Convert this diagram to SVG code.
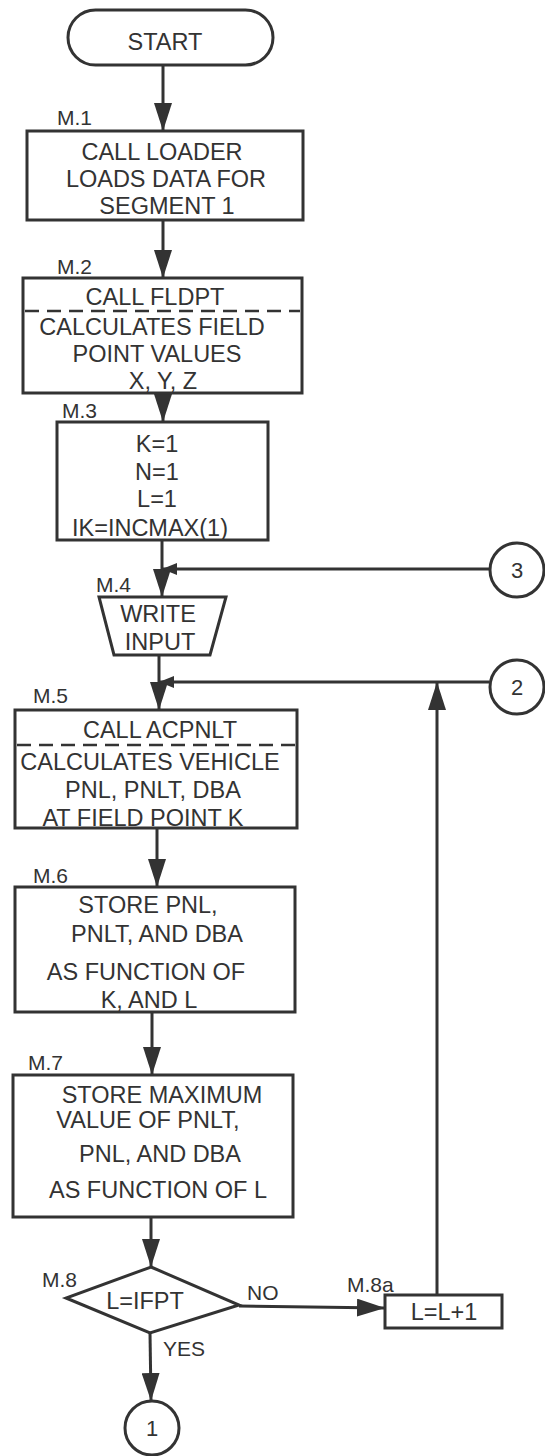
<svg xmlns="http://www.w3.org/2000/svg" width="545" height="1456" viewBox="0 0 545 1456">
<style>
.s{fill:none;stroke:#333;stroke-width:3}
.b{fill:#fff;stroke:#333;stroke-width:3}
.d{stroke:#333;stroke-width:2.5;stroke-dasharray:14 8;fill:none}
text{font-family:"Liberation Sans",Arial,sans-serif;fill:#333}
.t{font-size:23.5px;text-anchor:middle}
.m{font-size:21px}
.n{font-size:22px;text-anchor:middle}
</style>
<defs>
<marker id="ah" markerUnits="userSpaceOnUse" viewBox="0 0 28 18" refX="27" refY="9" markerWidth="28" markerHeight="18" orient="auto">
<path d="M0,0 L28,9 L0,18 z" fill="#333"/>
</marker>
<marker id="as" markerUnits="userSpaceOnUse" viewBox="0 0 15 12" refX="14" refY="6" markerWidth="15" markerHeight="12" orient="auto">
<path d="M0,0 L15,6 L0,12 z" fill="#333"/>
</marker>
</defs>
<rect width="545" height="1456" fill="#fff"/>
<g id="connectors">
<line class="s" x1="163" y1="65" x2="163" y2="130" marker-end="url(#ah)"/>
<line class="s" x1="163" y1="220" x2="163" y2="277" marker-end="url(#ah)"/>
<line class="s" x1="163" y1="393" x2="163" y2="421" marker-end="url(#ah)"/>
<line class="s" x1="162" y1="540" x2="162" y2="596" marker-end="url(#ah)"/>
<line class="s" x1="490" y1="569" x2="163" y2="569" marker-end="url(#as)"/>
<line class="s" x1="159" y1="655" x2="159" y2="709" marker-end="url(#ah)"/>
<line class="s" x1="489" y1="682" x2="160" y2="682" marker-end="url(#as)"/>
<line class="s" x1="437" y1="1295" x2="437" y2="683" marker-end="url(#ah)"/>
<line class="s" x1="157" y1="828" x2="157" y2="886" marker-end="url(#ah)"/>
<line class="s" x1="152" y1="1012" x2="152" y2="1074" marker-end="url(#ah)"/>
<line class="s" x1="151" y1="1217" x2="151" y2="1266" marker-end="url(#ah)"/>
<line class="s" x1="239" y1="1306" x2="384" y2="1308" marker-end="url(#ah)"/>
<line class="s" x1="150" y1="1333" x2="151" y2="1400" marker-end="url(#ah)"/>
<text class="m" x="247" y="1300">NO</text>
<text class="m" x="163" y="1356">YES</text>
</g>
<g id="start">
<rect class="b" x="68" y="10" width="205" height="55" rx="27.5"/>
<text class="t" x="165" y="50">START</text>
</g>
<g id="m1">
<text class="m" x="57" y="125">M.1</text>
<rect class="b" x="27" y="131" width="276" height="89"/>
<text class="t" x="162" y="160">CALL LOADER</text>
<text class="t" x="166" y="187">LOADS DATA FOR</text>
<text class="t" x="167" y="214">SEGMENT 1</text>
</g>
<g id="m2">
<text class="m" x="57" y="274">M.2</text>
<rect class="b" x="23" y="278" width="279" height="115"/>
<line class="d" x1="25" y1="311" x2="300" y2="311"/>
<text class="t" x="155" y="305">CALL FLDPT</text>
<text class="t" x="152" y="335">CALCULATES FIELD</text>
<text class="t" x="157" y="362">POINT VALUES</text>
<text class="t" x="163" y="389">X, Y, Z</text>
</g>
<g id="m3">
<text class="m" x="62" y="418">M.3</text>
<rect class="b" x="57" y="422" width="211" height="118"/>
<text class="t" x="157" y="452">K=1</text>
<text class="t" x="157" y="480">N=1</text>
<text class="t" x="157" y="507">L=1</text>
<text class="t" x="150" y="536">IK=INCMAX(1)</text>
</g>
<g id="m4">
<text class="m" x="96" y="592">M.4</text>
<path class="b" d="M99,597 L226,597 L210,655 L114,655 Z"/>
<text class="t" x="158" y="622">WRITE</text>
<text class="t" x="160" y="650">INPUT</text>
</g>
<g id="c3">
<circle class="b" cx="517" cy="570" r="27"/>
<text class="n" x="517" y="578">3</text>
</g>
<g id="c2">
<circle class="b" cx="517" cy="687" r="27"/>
<text class="n" x="517" y="695">2</text>
</g>
<g id="m5">
<text class="m" x="33" y="703">M.5</text>
<rect class="b" x="15" y="710" width="282" height="118"/>
<line class="d" x1="17" y1="745" x2="295" y2="745"/>
<text class="t" x="160" y="738">CALL ACPNLT</text>
<text class="t" x="150" y="770">CALCULATES VEHICLE</text>
<text class="t" x="153" y="798">PNL, PNLT, DBA</text>
<text class="t" x="143" y="826">AT FIELD POINT K</text>
</g>
<g id="m6">
<text class="m" x="33" y="883">M.6</text>
<rect class="b" x="15" y="887" width="280" height="125"/>
<text class="t" x="148" y="913">STORE PNL,</text>
<text class="t" x="157" y="942">PNLT, AND DBA</text>
<text class="t" x="146" y="980">AS FUNCTION OF</text>
<text class="t" x="149" y="1008">K, AND L</text>
</g>
<g id="m7">
<text class="m" x="28" y="1070">M.7</text>
<rect class="b" x="13" y="1075" width="280" height="142"/>
<text class="t" x="162" y="1103">STORE MAXIMUM</text>
<text class="t" x="148" y="1128">VALUE OF PNLT,</text>
<text class="t" x="160" y="1162">PNL, AND DBA</text>
<text class="t" x="158" y="1198">AS FUNCTION OF L</text>
</g>
<g id="m8">
<text class="m" x="42" y="1287">M.8</text>
<path class="b" d="M151,1267 L239,1305 L150,1333 L66,1298 Z"/>
<text class="t" x="145" y="1309">L=IFPT</text>
</g>
<g id="m8a">
<text class="m" x="347" y="1292">M.8a</text>
<rect class="b" x="385" y="1295" width="117" height="33"/>
<text class="t" x="444" y="1320">L=L+1</text>
</g>
<g id="c1">
<circle class="b" cx="152" cy="1428" r="27"/>
<text class="n" x="152" y="1436">1</text>
</g>
</svg>
